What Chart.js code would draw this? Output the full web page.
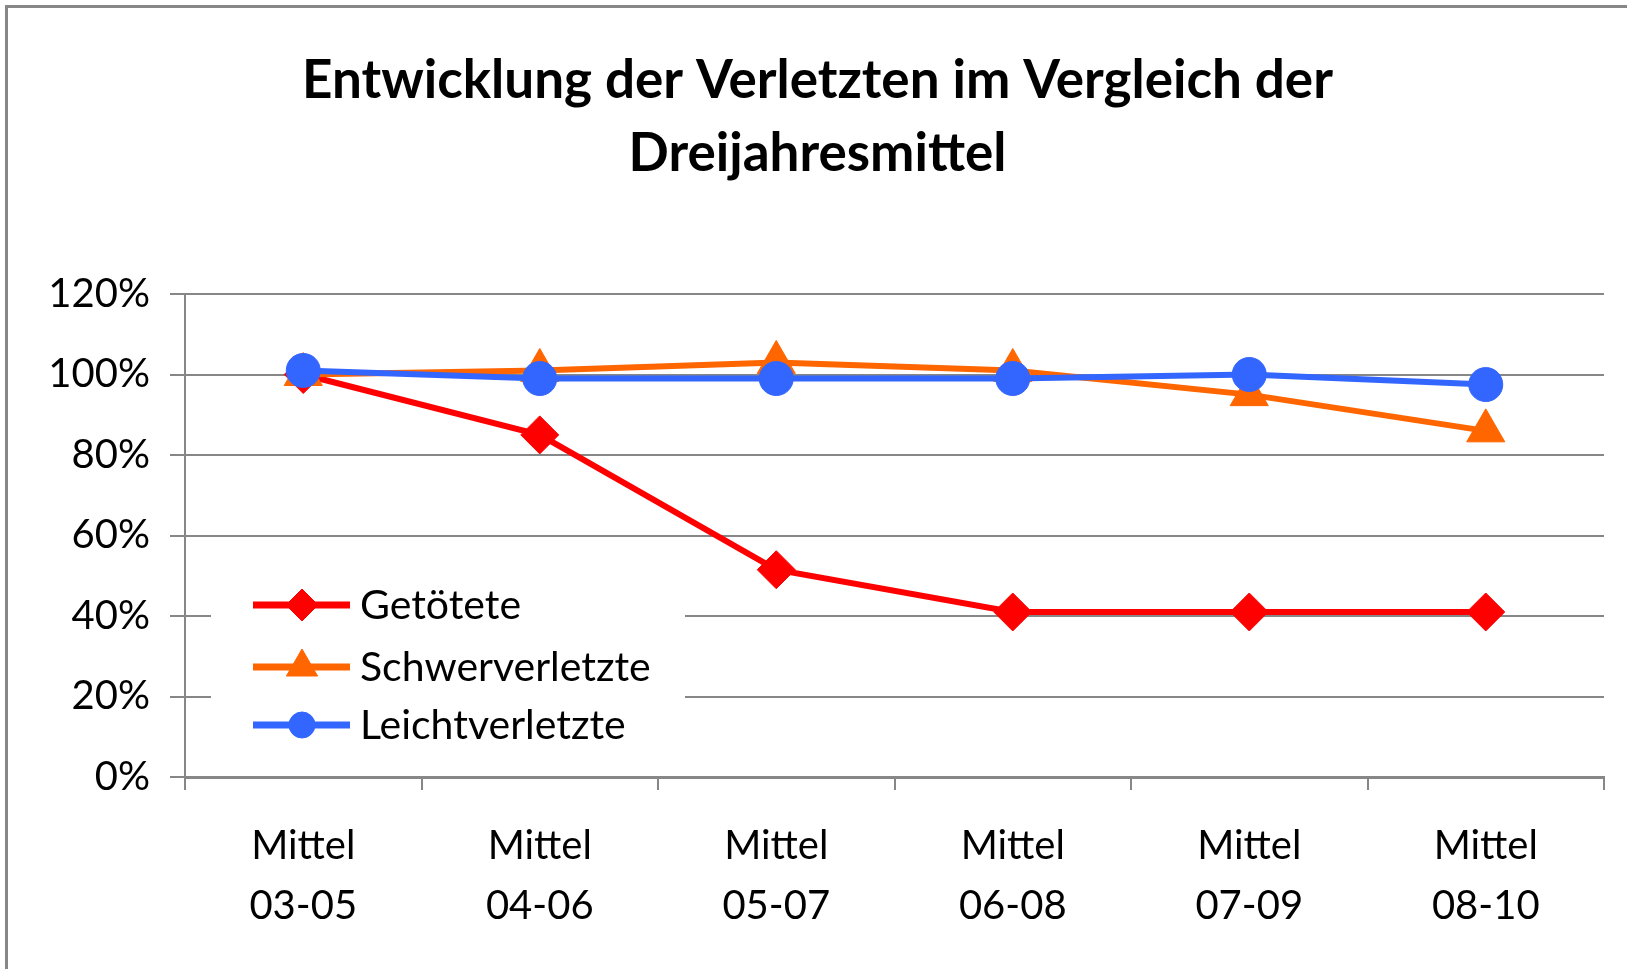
<!DOCTYPE html>
<html>
<head>
<meta charset="utf-8">
<script src="https://cdn.jsdelivr.net/npm/chart.js@4/dist/chart.umd.min.js"></script>
<style>
  html, body { margin: 0; padding: 0; background: #fff; overflow: hidden; }
  #frame {
    position: absolute; left: 5px; top: 5px;
    width: 1619px; height: 961px;
    border-left: 3px solid #878787; border-top: 3px solid #878787;
  }
  canvas { display: block; }
</style>
</head>
<body>
<div id="frame"><canvas id="chart"></canvas></div>
<script>
const titleLines = ['Entwicklung der Verletzten im Vergleich der', 'Dreijahresmittel'];
const categories = [
  ['Mittel', '03-05'], ['Mittel', '04-06'], ['Mittel', '05-07'],
  ['Mittel', '06-08'], ['Mittel', '07-09'], ['Mittel', '08-10']
];
const getoetete = [100, 85, 51.5, 41, 41, 41];
const schwerverletzte = [100, 101, 103, 101, 95, 86];
const leichtverletzte = [101, 99, 99, 99, 100, 97.5];

const gridGrey = '#878787';
const font = 'Lato';

// legend drawn inside the plot, on a white patch over the grid lines
const insideLegend = {
  id: 'insideLegend',
  beforeDatasetsDraw(chart) {
    const ctx = chart.ctx;
    const a = chart.chartArea;
    const left = a.left + 26;
    const rows = [a.bottom - 172, a.bottom - 110, a.bottom - 52];
    ctx.save();
    ctx.fillStyle = '#fff';
    ctx.fillRect(left, a.bottom - 217, 474, 190);
    chart.data.datasets.forEach((ds, i) => {
      const y = rows[i];
      ctx.strokeStyle = ds.borderColor;
      ctx.lineWidth = 7;
      ctx.beginPath();
      ctx.moveTo(left + 42, y);
      ctx.lineTo(left + 139, y);
      ctx.stroke();
      ctx.fillStyle = ds.borderColor;
      ctx.lineWidth = 1;
      Chart.helpers.drawPoint(ctx, {
        pointStyle: ds.pointStyle, radius: ds.legendRadius, borderWidth: 1, rotation: 0
      }, left + 91, y);
      ctx.fillStyle = '#000';
      ctx.font = '41px ' + font;
      ctx.textBaseline = 'middle';
      ctx.textAlign = 'left';
      ctx.fillText(ds.label, left + 149, y + 1);
    });
    ctx.restore();
  }
};

new Chart(document.getElementById('chart'), {
  type: 'line',
  data: {
    labels: categories,
    datasets: [
      {
        label: 'Getötete', data: getoetete, order: 3,
        borderColor: '#ff0000', backgroundColor: '#ff0000', borderWidth: 6,
        pointStyle: 'rectRot', pointRadius: 19, legendRadius: 16,
        pointBackgroundColor: '#ff0000', pointBorderColor: '#ff0000', pointBorderWidth: 1
      },
      {
        label: 'Schwerverletzte', data: schwerverletzte, order: 2,
        borderColor: '#ff6600', backgroundColor: '#ff6600', borderWidth: 6,
        pointStyle: 'triangle', pointRadius: 22, legendRadius: 18,
        pointBackgroundColor: '#ff6600', pointBorderColor: '#ff6600', pointBorderWidth: 1
      },
      {
        label: 'Leichtverletzte', data: leichtverletzte, order: 1,
        borderColor: '#3366ff', backgroundColor: '#3366ff', borderWidth: 6,
        pointStyle: 'circle', pointRadius: 17, legendRadius: 13,
        pointBackgroundColor: '#3366ff', pointBorderColor: '#3366ff', pointBorderWidth: 1
      }
    ]
  },
  options: {
    responsive: true,
    maintainAspectRatio: false,
    animation: false,
    layout: { padding: { left: 22, right: 22, top: 0, bottom: 0 } },
    plugins: {
      legend: { display: false },
      tooltip: { enabled: false },
      title: {
        display: true,
        text: titleLines,
        color: '#000',
        font: { family: font, size: 53, weight: 'bold', lineHeight: 73 / 53 },
        padding: { top: 36, bottom: 104 }
      }
    },
    scales: {
      x: {
        offset: true,
        grid: { display: true, drawOnChartArea: false, offset: true, tickLength: 13, color: gridGrey, lineWidth: 2 },
        border: { color: gridGrey, width: 3 },
        ticks: {
          color: '#000', padding: 26, maxRotation: 0, autoSkip: false,
          font: { family: font, size: 40, lineHeight: 60 / 40 }
        },
        afterFit(scale) { scale.height = 192; }
      },
      y: {
        min: 0, max: 120,
        grid: { color: gridGrey, lineWidth: 2, tickLength: 15 },
        border: { color: gridGrey, width: 2 },
        ticks: {
          stepSize: 20, color: '#000', padding: 20,
          font: { family: font, size: 40 },
          callback: v => v + '%'
        },
        afterFit(scale) { scale.width = 155; }
      }
    }
  },
  plugins: [insideLegend]
});
</script>
</body>
</html>
